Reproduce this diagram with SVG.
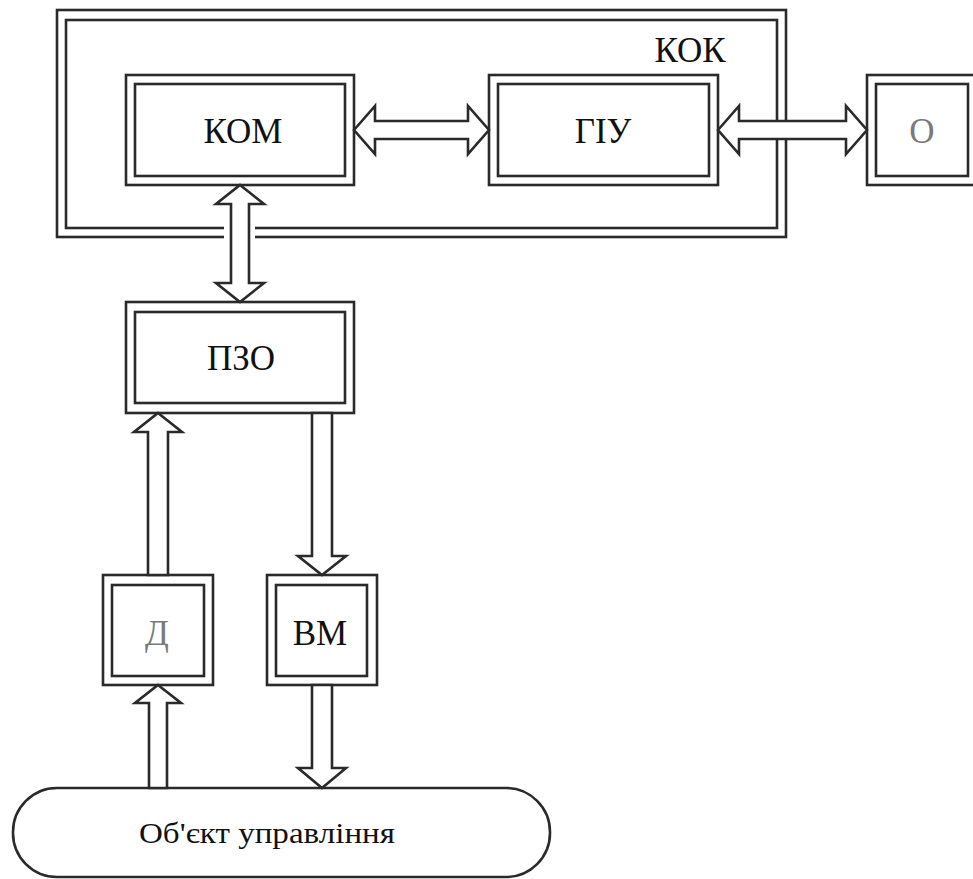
<svg xmlns="http://www.w3.org/2000/svg" width="973" height="879" viewBox="0 0 973 879">
<style>
.b{fill:none;stroke:#2a2a2a;stroke-width:2.6}
.a{fill:#fff;stroke:#2a2a2a;stroke-width:2.6;stroke-linejoin:miter}
text{font-family:'Liberation Serif','DejaVu Serif',serif;font-size:35px;fill:#111;text-anchor:middle}
.g{fill:#7a7a7a}
</style>
<rect width="973" height="879" fill="#fff"/>
<g id="KOK">
<rect class="b" x="57" y="10" width="729" height="227"/>
<rect class="b" x="66" y="20" width="711" height="208"/>
<text x="690" y="62" font-family="Liberation Serif">КОК</text>
</g>
<g id="KOM">
<rect class="b" x="126" y="75" width="228" height="110"/>
<rect class="b" x="135" y="84" width="210" height="92"/>
<text x="243" y="143" font-family="Liberation Serif">КОМ</text>
</g>
<g id="GIU">
<rect class="b" x="489" y="75" width="229" height="110"/>
<rect class="b" x="498" y="84" width="211" height="92"/>
<text x="603" y="143" font-family="Liberation Serif">ГІУ</text>
</g>
<g id="O">
<rect class="b" x="867" y="75" width="110" height="110"/>
<rect class="b" x="876" y="84" width="92" height="92"/>
<text class="g" x="922" y="143" font-family="Liberation Serif">О</text>
</g>
<g id="PZO">
<rect class="b" x="126" y="302" width="228" height="111"/>
<rect class="b" x="135" y="312" width="210" height="91"/>
<text x="241" y="370" font-family="Liberation Serif">ПЗО</text>
</g>
<g id="D">
<rect class="b" x="103" y="575" width="110" height="110"/>
<rect class="b" x="112" y="585" width="92" height="91"/>
<text class="g" x="157" y="645" font-family="Liberation Serif">Д</text>
</g>
<g id="VM">
<rect class="b" x="267" y="575" width="110" height="110"/>
<rect class="b" x="276" y="585" width="91" height="91"/>
<text x="320" y="645" font-family="Liberation Serif">ВМ</text>
</g>
<g id="Object">
<rect class="b" x="13" y="788" width="537" height="89" rx="44" ry="44"/>
<text x="267" y="843" font-family="Liberation Serif" style="font-size:29px" textLength="256" lengthAdjust="spacingAndGlyphs">Об'єкт управління</text>
</g>
<g id="connectors">
<rect x="224" y="222" width="31" height="20" fill="#fff"/>
<polygon class="a" points="354,130 375,106 375,121 468,121 468,106 489,130 468,154 468,139 375,139 375,154"/>
<polygon class="a" points="718,130 739,106 739,121 846,121 846,106 867,130 846,154 846,139 739,139 739,154"/>
<polygon class="a" points="240,185 264,204 249,204 249,283 264,283 240,302 216,283 231,283 231,204 216,204"/>
<polygon class="a" points="158,413 182,432 168,432 168,575 148,575 148,432 134,432"/>
<polygon class="a" points="322,575 346,556 332,556 332,413 312,413 312,556 298,556"/>
<polygon class="a" points="158,685 181,703 167,703 167,788 149,788 149,703 135,703"/>
<polygon class="a" points="322,788 346,768 332,768 332,685 312,685 312,768 298,768"/>
</g>
</svg>
